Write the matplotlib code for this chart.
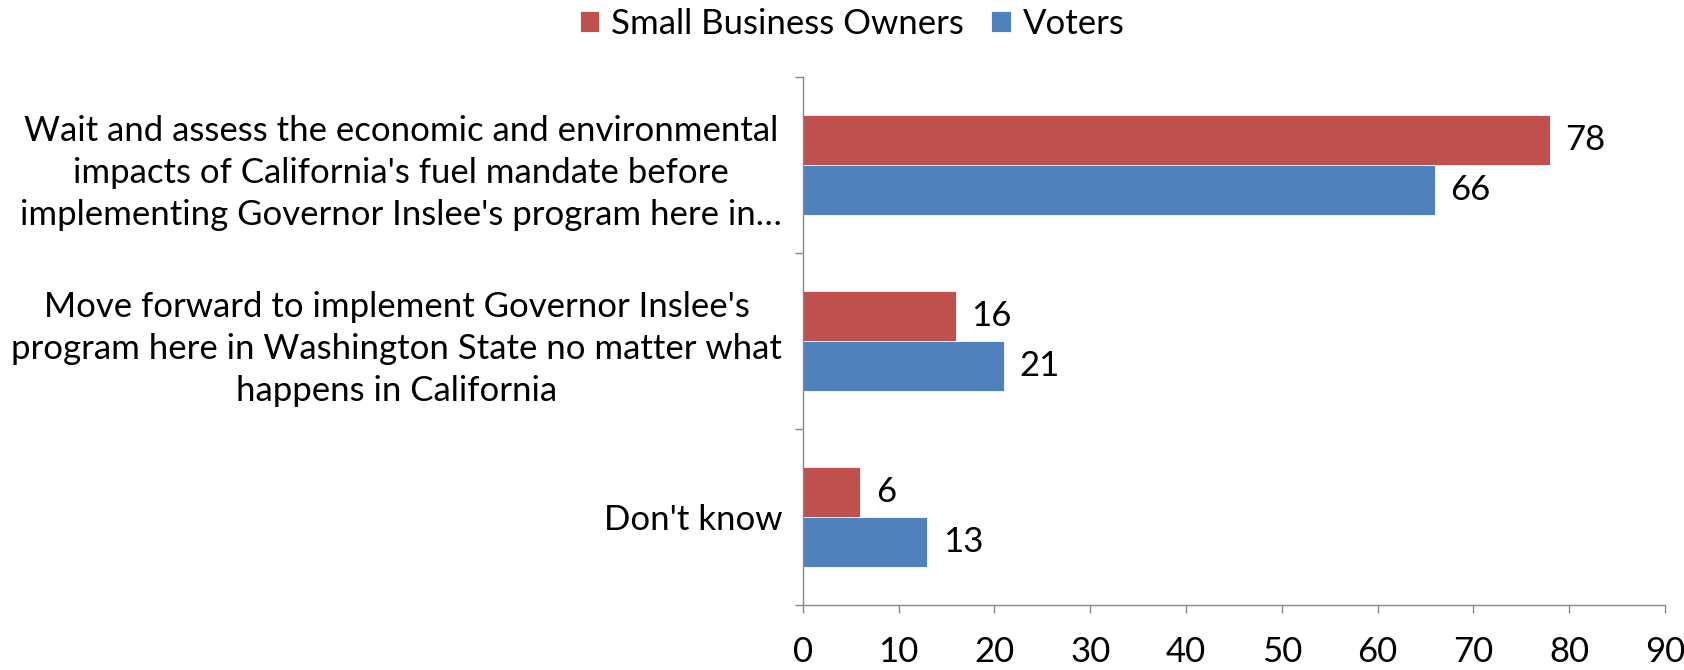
import matplotlib.pyplot as plt
import numpy as np

# Survey responses (percent)
categories = [
    "Wait and assess the economic and environmental\nimpacts of California's fuel mandate before\nimplementing Governor Inslee's program here in\u2026",
    "Move forward to implement Governor Inslee's\nprogram here in Washington State no matter what\nhappens in California",
    "Don't know",
]
small_business = [78, 16, 6]
voters = [66, 21, 13]
series_names = ["Small Business Owners", "Voters"]

red = "#C0504D"
blue = "#4F81BD"

plt.rcParams["font.family"] = ["Lato", "DejaVu Sans"]
fs = 25

fig = plt.figure(figsize=(16.84, 6.70), dpi=100)
ax = fig.add_axes([0.4768, 0.097, 0.5119, 0.788])

y = np.arange(len(categories))
h = 0.284
b1 = ax.barh(y - h / 2, small_business, height=h, color=red, edgecolor="white",
             linewidth=0.6, label=series_names[0])
b2 = ax.barh(y + h / 2, voters, height=h, color=blue, edgecolor="white",
             linewidth=0.6, label=series_names[1])

# value labels to the right of each bar
for bars, vals in ((b1, small_business), (b2, voters)):
    for bar, v in zip(bars, vals):
        ax.annotate(str(v), (v, bar.get_y() + bar.get_height() / 2),
                    xytext=(11, 0), textcoords="offset points",
                    va="center", ha="left", fontsize=fs)

ax.set_xlim(0, 90)
ax.set_ylim(len(categories) - 0.5, -0.5)
ax.set_xticks(np.arange(0, 91, 10))
ax.tick_params(axis="x", labelsize=fs, length=6, width=1, color="#888888", pad=16)

ax.set_yticks(y)
ax.set_yticklabels(categories, fontsize=fs, multialignment="center", linespacing=1.38)
ax.set_yticks(np.arange(-0.5, len(categories)), minor=True)
ax.tick_params(axis="y", which="major", length=0, pad=15)
ax.tick_params(axis="y", which="minor", length=6, width=1, color="#888888")

for side in ("top", "right"):
    ax.spines[side].set_visible(False)
for side in ("left", "bottom"):
    ax.spines[side].set_color("#888888")
    ax.spines[side].set_linewidth(1)

fig.legend(handles=[b1, b2], labels=series_names, loc="upper center",
           bbox_to_anchor=(0.506, 1.035), ncol=2, frameon=False, fontsize=fs,
           handlelength=0.55, handleheight=0.55, handletextpad=0.35,
           columnspacing=0.8)

fig.savefig("out.png", dpi=100)
